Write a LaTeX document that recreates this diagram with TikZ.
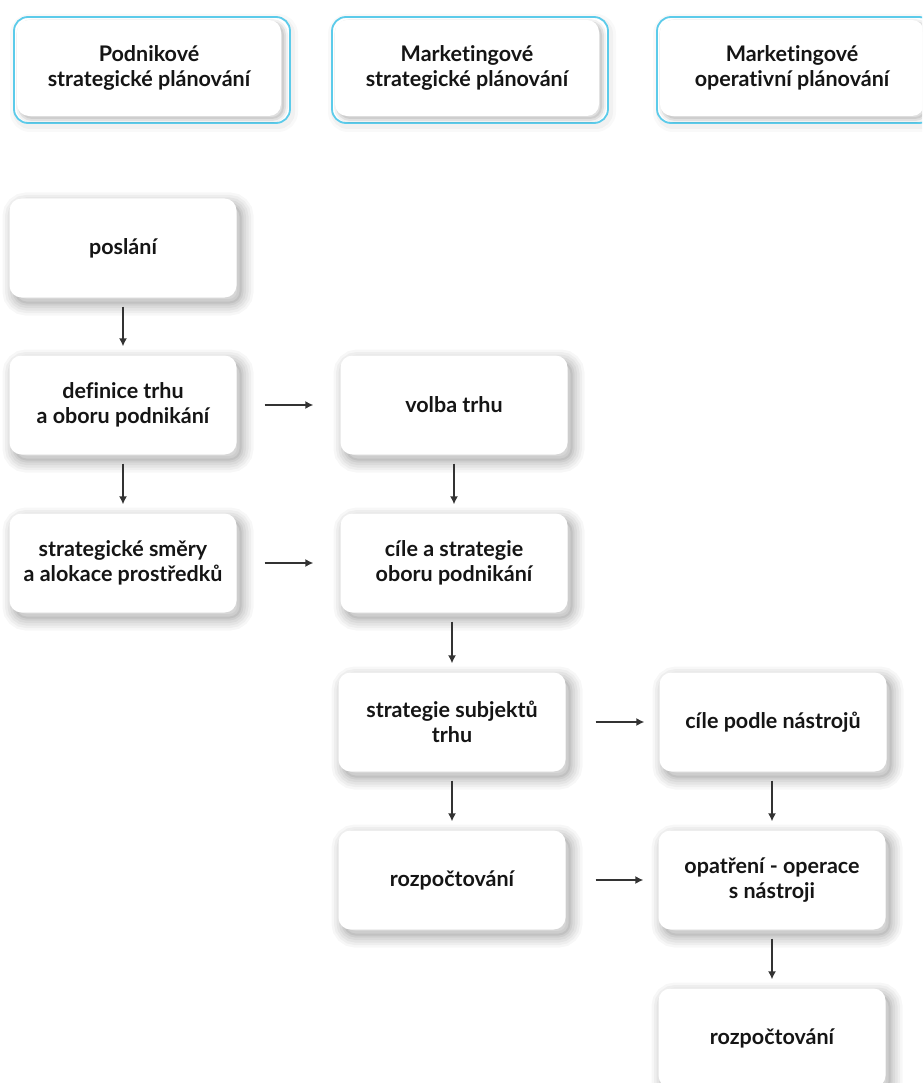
\documentclass[tikz,border=0pt]{standalone}
\usepackage{fontspec}
\setmainfont{Lato}[Ligatures=NoCommon]
\usetikzlibrary{arrows.meta}
\definecolor{headline}{HTML}{5CCBEA}
\definecolor{ink}{HTML}{151515}
\definecolor{arrowink}{HTML}{333333}
\tikzset{
  % one ring of a soft drop shadow: width, opacity, x offset, y offset
  ring/.style n args={4}{preaction={draw=black, draw opacity=#2,
      line width=#1, transform canvas={shift={(#3,#4)}}}},
  softshadow/.style={ring={24pt}{.03}{5pt}{-6pt}, ring={19pt}{.035}{5pt}{-6pt},
    ring={14pt}{.04}{5pt}{-6pt}, ring={9pt}{.045}{5pt}{-6pt},
    ring={4pt}{.05}{5pt}{-6pt},
    preaction={fill=black, fill opacity=.06, transform canvas={shift={(5pt,-6pt)}}}},
  innershadow/.style={ring={8pt}{.05}{3pt}{-3pt}, ring={4pt}{.07}{3pt}{-3pt},
    preaction={fill=black, fill opacity=.08, transform canvas={shift={(3pt,-3pt)}}}},
  cardfont/.style={text=ink, font=\bfseries\fontsize{21.5}{24.5}\selectfont},
  card/.style={draw=none, fill=white, rounded corners=12pt,
    minimum width=227pt, minimum height=99pt, align=center, cardfont, softshadow},
  headframe/.style={draw=headline, fill=white, line width=1.8pt,
    rounded corners=14pt, minimum width=276pt, minimum height=106pt,
    ring={12pt}{.025}{2pt}{-3pt}, ring={6pt}{.03}{2pt}{-3pt}},
  headcard/.style={fill=white, rounded corners=12pt, align=center, cardfont,
    minimum width=264pt, minimum height=96pt, innershadow},
  flow/.style={draw=arrowink, line width=1.4pt, -{Latex[length=8pt,width=8pt]}}
}
\begin{document}
\begin{tikzpicture}[x=1pt,y=-1pt]
  \fill[white] (0,0) rectangle (922,1083);
  \useasboundingbox (0,0) rectangle (922,1083);
  \begin{scope}
  \clip (0,0) rectangle (922,1083);
  % column headings: cyan frame with a raised white card inside
  \foreach \n/\x/\t in {h1/152/{Podnikové\\strategické plánování},
                        h2/470/{Marketingové\\strategické plánování},
                        h3/795/{Marketingové\\operativní plánování}} {
    \node[headframe] (\n) at (\x,70) {};
    \node[headcard, xshift=-3pt, yshift=2pt] at (\n) {\t};
  }

  % first column
  \node[card] (posl) at (123,248) {poslání};
  \node[card] (defi) at (123,405) {definice trhu\\a oboru podnikání};
  \node[card] (smer) at (123,563) {strategické směry\\a alokace prostředků};

  % second column
  \node[card] (volba) at (454,405) {volba trhu};
  \node[card] (cile)  at (454,563) {cíle a strategie\\oboru podnikání};
  \node[card] (subj)  at (452,722) {strategie subjektů\\trhu};
  \node[card] (rozp)  at (452,880) {rozpočtování};

  % third column
  \node[card] (nastr) at (773,722) {cíle podle nástrojů};
  \node[card] (oper)  at (772,880) {opatření - operace\\s nástroji};
  \node[card] (rozp2) at (772,1038) {rozpočtování};

  % vertical links
  \draw[flow, shorten <=9pt, shorten >=9pt] (posl) -- (defi);
  \draw[flow, shorten <=9pt, shorten >=9pt] (defi) -- (smer);
  \draw[flow, shorten <=9pt, shorten >=9pt] (volba.south) -- (volba.south|-cile.north);
  \draw[flow, shorten <=9pt, shorten >=9pt] (cile.south-|subj.south) -- (subj.north);
  \draw[flow, shorten <=9pt, shorten >=9pt] (subj) -- (rozp);
  \draw[flow, shorten <=9pt, shorten >=9pt] (nastr.south-|oper.north) -- (oper.north);
  \draw[flow, shorten <=9pt, shorten >=9pt] (oper) -- (rozp2);

  % horizontal links
  \draw[flow, shorten <=28pt, shorten >=27pt] (defi.east) -- (volba.west|-defi.east);
  \draw[flow, shorten <=28pt, shorten >=27pt] (smer.east) -- (cile.west|-smer.east);
  \draw[flow, shorten <=30pt, shorten >=15pt] (subj.east) -- (nastr.west|-subj.east);
  \draw[flow, shorten <=30pt, shorten >=15pt] (rozp.east) -- (oper.west|-rozp.east);
  \end{scope}
\end{tikzpicture}
\end{document}
